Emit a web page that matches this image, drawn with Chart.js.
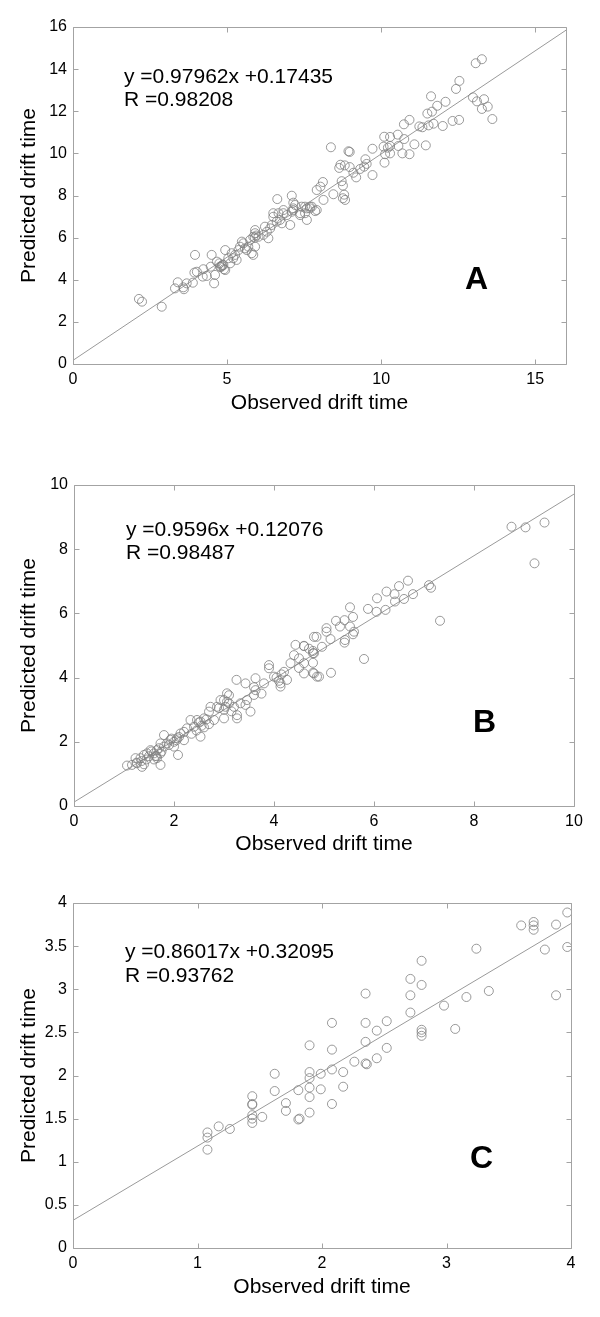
<!DOCTYPE html>
<html>
<head>
<meta charset="utf-8">
<script src="https://cdn.jsdelivr.net/npm/chart.js@4.4.1/dist/chart.umd.min.js"></script>
<style>
body { margin: 0; background: #fff; }
.panel { position: absolute; left: 0; width: 600px; height: 439px; }
</style>
</head>
<body>
<div class="panel" style="top:0px"><canvas id="chartA" width="600" height="439"></canvas></div>
<div class="panel" style="top:439px"><canvas id="chartB" width="600" height="439"></canvas></div>
<div class="panel" style="top:878px"><canvas id="chartC" width="600" height="439"></canvas></div>
<script>
// panel A
var xA = [13.07,13.27,12.54,12.43,11.62,12.09,11.82,11.65,11.50,12.98,13.11,13.34,13.27,13.46,13.61,12.32,12.53,12.00,11.70,11.54,11.34,11.24,10.92,10.74,
  10.54,10.29,10.10,10.75,10.08,10.29,10.22,10.56,11.08,11.45,10.13,10.29,10.11,10.69,10.92,9.72,9.72,9.49,9.53,9.45,9.32,9.19,9.10,8.98,8.82,8.68,8.64,
  8.94,8.98,8.37,8.72,8.76,8.11,8.03,7.91,8.45,8.80,8.76,8.83,8.13,7.42,7.59,7.75,7.86,7.53,6.63,7.10,7.15,7.69,6.50,6.83,7.15,7.37,
  2.14,2.24,2.88,3.31,3.40,3.58,3.60,3.69,3.89,3.96,3.94,4.02,4.21,4.23,4.34,4.47,4.50,4.58,4.61,4.67,4.75,4.77,4.83,4.88,4.94,4.94,5.04,5.10,5.15,
  5.20,5.26,5.31,5.37,5.42,5.48,5.53,5.58,5.64,5.69,5.75,5.80,5.85,5.91,5.85,5.91,5.91,6.02,6.18,6.23,6.29,6.34,6.40,6.45,6.50,6.61,6.67,6.72,6.78,
  6.83,6.94,7.05,7.10,7.15,7.21,7.37,7.53,7.59,7.69,7.91,4.80,4.85,4.90,5.90,5.95];
var yA = [14.28,14.47,13.44,13.06,12.71,12.45,12.26,11.98,11.89,12.66,12.47,12.57,12.11,12.22,11.63,11.54,11.59,11.30,11.41,11.33,11.24,11.28,11.59,11.38,
  10.89,10.78,10.79,10.68,10.32,10.35,10.27,10.35,10.43,10.38,9.96,10.00,9.56,10.00,9.96,10.22,8.97,9.72,9.50,9.37,9.26,8.86,9.08,9.35,9.43,9.46,9.31,
  10.10,10.07,10.29,8.68,8.47,8.64,8.42,8.26,8.06,8.04,7.87,7.79,7.79,7.47,7.39,7.47,7.26,7.16,7.83,7.99,7.66,7.39,7.16,7.16,7.31,7.07,
  3.09,2.96,2.72,3.59,3.88,3.64,3.55,3.83,3.86,5.18,4.34,4.38,4.15,4.50,4.18,4.62,5.18,3.83,4.23,4.86,4.78,4.62,4.65,4.70,4.46,5.41,5.02,4.78,5.26,
  5.02,5.18,4.94,5.41,5.57,5.81,5.73,5.49,5.41,5.57,5.89,5.26,5.18,5.57,6.04,6.21,6.36,6.04,6.13,6.52,6.28,5.97,6.44,6.60,6.99,6.76,7.16,6.84,6.68,
  7.31,7.07,6.60,7.23,7.39,7.55,7.16,7.47,6.84,7.47,7.31,4.60,4.70,4.50,6.00,6.10];
var fitA = [[0, 0.174], [16, 15.848]];

// panel B
var xB = [8.75,9.03,9.41,9.21,7.32,7.10,7.14,6.68,6.50,6.25,6.41,6.06,6.78,6.60,6.42,6.23,6.05,5.88,5.52,5.58,5.24,5.41,5.32,5.52,5.60,5.58,5.42,
  5.05,5.05,5.13,4.80,4.85,4.96,4.60,4.78,5.80,5.14,4.86,4.78,4.78,4.60,5.41,4.78,4.43,4.60,4.40,4.50,4.80,4.90,4.80,4.33,4.26,4.20,4.13,4.13,
  4.00,3.90,3.90,3.80,3.63,3.63,3.60,3.46,3.53,3.43,3.43,3.25,3.26,3.26,3.33,3.20,3.06,3.06,3.03,3.00,2.93,2.86,2.73,2.70,2.80,2.60,2.53,2.46,
  2.40,2.53,2.33,2.26,2.20,2.13,2.06,2.08,2.00,1.93,1.86,1.80,1.73,1.66,1.60,1.53,1.46,1.40,1.33,1.23,1.26,1.16,1.06,1.36,1.73,1.66,1.73,1.63,
  2.50,2.55,2.60,2.45,2.35,2.65,2.70,1.50,1.55,1.65,1.70,1.45,1.35,1.25,1.80,1.90,2.00,2.05,2.10,2.20,1.95,1.75,1.60,1.40,3.00,3.10,3.15,2.90,
  3.00,3.10,3.60,3.75,4.05,4.15,4.10,4.50,4.60,4.70];
var yB = [8.70,8.68,8.83,7.56,5.77,6.88,6.80,7.02,6.85,6.68,6.60,6.47,6.60,6.45,6.37,6.11,6.05,6.14,6.19,5.89,5.77,5.79,5.59,5.59,5.43,5.35,5.17,
  5.54,5.43,5.20,5.27,5.27,4.96,4.99,4.83,4.58,4.15,4.03,4.15,4.46,4.13,5.09,4.76,5.02,4.98,4.70,4.60,4.76,4.03,4.13,4.45,3.93,4.18,3.72,3.82,
  4.03,4.29,4.39,3.82,3.98,3.61,3.46,3.30,2.94,3.15,3.82,3.93,2.83,2.73,3.20,3.09,3.51,3.25,3.09,2.73,3.30,3.09,3.09,2.94,2.68,2.73,2.63,2.68,
  2.47,2.16,2.68,2.42,2.31,2.26,2.11,1.59,2.00,2.06,1.95,2.21,1.95,1.74,1.64,1.74,1.64,1.59,1.49,1.49,1.33,1.28,1.26,1.22,1.28,1.49,1.64,1.56,
  2.60,2.50,2.45,2.35,2.25,2.70,2.55,1.55,1.70,1.55,1.80,1.45,1.40,1.35,1.85,1.90,1.85,2.05,2.15,2.05,2.10,1.70,1.45,1.30,3.00,3.20,2.95,3.05,
  3.30,3.45,3.70,3.50,4.00,4.10,3.90,4.30,4.45,4.90];
var fitB = [[0, 0.121], [10, 9.717]];

// panel C
var xC = [3.97,3.97,3.88,3.79,3.88,3.60,3.70,3.70,3.70,3.24,3.34,3.16,2.98,3.07,2.80,2.71,2.80,2.71,2.71,2.80,2.80,2.80,2.52,2.52,2.44,2.44,
  2.35,2.35,2.35,2.35,2.36,2.26,2.17,2.17,2.08,2.08,2.08,1.99,1.99,1.90,1.90,1.90,1.90,1.90,2.08,1.90,1.82,1.81,1.81,1.62,1.62,1.71,1.71,
  1.52,1.44,1.44,1.44,1.44,1.44,1.44,1.26,1.17,1.08,1.08,1.08];
var yC = [3.89,3.49,3.75,3.46,2.93,3.74,3.78,3.74,3.69,3.47,2.98,2.91,2.81,2.54,3.33,3.12,3.05,2.93,2.73,2.53,2.50,2.46,2.63,2.32,2.52,2.20,
  2.95,2.61,2.39,2.14,2.13,2.16,2.04,1.87,2.61,2.30,2.07,2.02,1.84,2.35,2.04,1.97,1.86,1.75,1.67,1.57,1.50,1.83,1.49,1.82,2.02,1.68,1.59,
  1.52,1.76,1.67,1.66,1.54,1.50,1.45,1.38,1.41,1.34,1.28,1.14];
var fitC = [[0, 0.321], [4, 3.762]];

var fontName = '"Liberation Sans", Arial, sans-serif';

function toPoints(xs, ys) {
  var pts = [];
  for (var i = 0; i < xs.length; i++) pts.push({ x: xs[i], y: ys[i] });
  return pts;
}

// plain number labels: 4, 3.5, 3 ... like the original
function plainLabel(v) {
  return String(Math.round(v * 100) / 100);
}

// frame with inward ticks on all four sides, plus the equation and panel letter
var framePlugin = {
  id: 'frame',
  afterDraw: function (chart, args, o) {
    var c = chart.ctx, a = chart.chartArea;
    var xs = chart.scales.x, ys = chart.scales.y;
    var l = Math.round(a.left) + 0.5, r = Math.round(a.right) + 0.5;
    var t = Math.round(a.top) + 0.5, b = Math.round(a.bottom) + 0.5;
    c.save();
    c.strokeStyle = '#a3a3a3';
    c.lineWidth = 1;
    c.beginPath();
    c.rect(l, t, r - l, b - t);
    xs.ticks.forEach(function (tk) {
      var px = Math.round(xs.getPixelForValue(tk.value)) + 0.5;
      c.moveTo(px, b); c.lineTo(px, b - 5);
      c.moveTo(px, t); c.lineTo(px, t + 5);
    });
    ys.ticks.forEach(function (tk) {
      var py = Math.round(ys.getPixelForValue(tk.value)) + 0.5;
      c.moveTo(l, py); c.lineTo(l + 5, py);
      c.moveTo(r, py); c.lineTo(r - 5, py);
    });
    c.stroke();

    c.fillStyle = '#000';
    c.textBaseline = 'alphabetic';
    c.textAlign = 'left';
    c.font = '21px ' + fontName;
    c.fillText(o.eq[0], a.left + o.eqX, a.top + o.eqY[0]);
    c.fillText(o.eq[1], a.left + o.eqX, a.top + o.eqY[1]);
    c.font = 'bold 32px ' + fontName;
    c.fillText(o.letter, a.left + o.letterX, a.top + o.letterY);
    c.restore();
  }
};

function makePanel(id, xs, ys, fit, cfg) {
  new Chart(document.getElementById(id), {
    type: 'scatter',
    data: {
      datasets: [{
        data: toPoints(xs, ys),
        pointStyle: 'circle',
        pointRadius: 4.5,
        pointHoverRadius: 4.5,
        borderColor: '#808080',
        borderWidth: 0.8,
        backgroundColor: 'rgba(0,0,0,0)'
      }, {
        type: 'line',
        data: fit.map(function (p) { return { x: p[0], y: p[1] }; }),
        borderColor: '#9a9a9a',
        borderWidth: 1,
        pointRadius: 0,
        fill: false
      }]
    },
    options: {
      responsive: false,
      animation: false,
      events: [],
      layout: { padding: { left: 0, top: cfg.top, right: 600 - cfg.right, bottom: 0 } },
      plugins: {
        legend: { display: false },
        tooltip: { enabled: false },
        frame: { eq: cfg.eq, eqX: cfg.eqX, eqY: cfg.eqY, letter: cfg.letter, letterX: cfg.letterX, letterY: cfg.letterY }
      },
      scales: {
        x: {
          type: 'linear',
          min: 0, max: cfg.xMax,
          grid: { display: false, drawTicks: false },
          border: { display: false },
          ticks: { stepSize: cfg.xStep, includeBounds: cfg.xBounds, padding: 6, color: '#000', font: { family: fontName, size: 16 }, callback: plainLabel },
          title: { display: true, text: 'Observed drift time', color: '#000', font: { family: fontName, size: 21 }, padding: { top: 0, bottom: cfg.xTitlePad } },
          afterFit: function (s) { s.height = 439 - cfg.bottom; }
        },
        y: {
          type: 'linear',
          min: 0, max: cfg.yMax,
          grid: { display: false, drawTicks: false },
          border: { display: false },
          ticks: { stepSize: cfg.yStep, padding: 6, color: '#000', font: { family: fontName, size: 16 }, callback: plainLabel },
          title: { display: true, text: 'Predicted drift time', color: '#000', font: { family: fontName, size: 21 }, padding: { top: 17, bottom: 0 } },
          afterFit: function (s) { s.width = cfg.left; }
        }
      }
    },
    plugins: [framePlugin]
  });
}

makePanel('chartA', xA, yA, fitA, {
  left: 73, right: 566, top: 27, bottom: 364,
  xMax: 16, xStep: 5, xBounds: false, yMax: 16, yStep: 2, xTitlePad: 23,
  eq: ['y =0.97962x +0.17435', 'R =0.98208'], eqX: 51, eqY: [56, 79],
  letter: 'A', letterX: 392, letterY: 262
});
makePanel('chartB', xB, yB, fitB, {
  left: 74, right: 574, top: 46, bottom: 367,
  xMax: 10, xStep: 2, xBounds: true, yMax: 10, yStep: 2, xTitlePad: 21,
  eq: ['y =0.9596x +0.12076', 'R =0.98487'], eqX: 52, eqY: [51, 74],
  letter: 'B', letterX: 399, letterY: 247
});
makePanel('chartC', xC, yC, fitC, {
  left: 73, right: 571, top: 25, bottom: 370,
  xMax: 4, xStep: 1, xBounds: true, yMax: 4, yStep: 0.5, xTitlePad: 17,
  eq: ['y =0.86017x +0.32095', 'R =0.93762'], eqX: 52, eqY: [55, 79],
  letter: 'C', letterX: 397, letterY: 265
});
</script>
</body>
</html>
